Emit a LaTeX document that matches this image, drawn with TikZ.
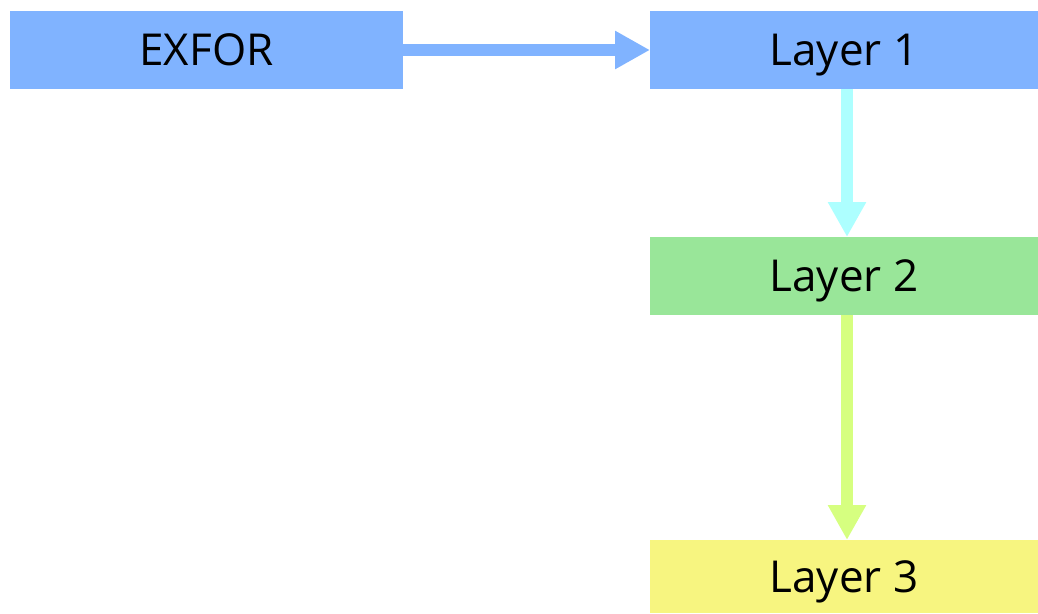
\documentclass[tikz,border=0pt]{standalone}
\usepackage{fontspec}
\setmainfont{Open Sans}
\usetikzlibrary{arrows.meta}
\definecolor{bluebox}{RGB}{128,179,255}
\definecolor{greenbox}{RGB}{153,230,153}
\definecolor{yellowbox}{RGB}{247,245,128}
\definecolor{cyanarrow}{RGB}{173,255,255}
\definecolor{limearrow}{RGB}{214,255,128}
\tikzset{
  box/.style={rectangle, draw=none, inner sep=0pt, outer sep=0pt, anchor=north west,
    font=\fontsize{44}{52}\selectfont, text=black, text height=31.5pt, text depth=0pt},
  conn/.style={line width=12pt, -{Triangle[length=35pt,width=36pt]}, shorten >=0pt}
}
\begin{document}
\begin{tikzpicture}[x=1pt,y=1pt]
\useasboundingbox (0,0) rectangle (1038,-613);
\node[box, fill=bluebox, minimum width=393pt, minimum height=78pt] (exfor) at (10,-11) {EXFOR};
\node[box, fill=bluebox, minimum width=388pt, minimum height=78pt] (l1) at (650,-11) {Layer 1};
\node[box, fill=greenbox, minimum width=388pt, minimum height=78pt] (l2) at (650,-237) {Layer 2};
\node[box, fill=yellowbox, minimum width=388pt, minimum height=73pt] (l3) at (650,-540) {Layer 3};
\draw[conn, bluebox] (exfor.east) -- (l1.west);
\draw[conn, cyanarrow] ([xshift=3pt]l1.south) -- ([xshift=3pt]l2.north);
\draw[conn, limearrow] ([xshift=3pt]l2.south) -- ([xshift=3pt]l3.north);
\end{tikzpicture}
\end{document}
